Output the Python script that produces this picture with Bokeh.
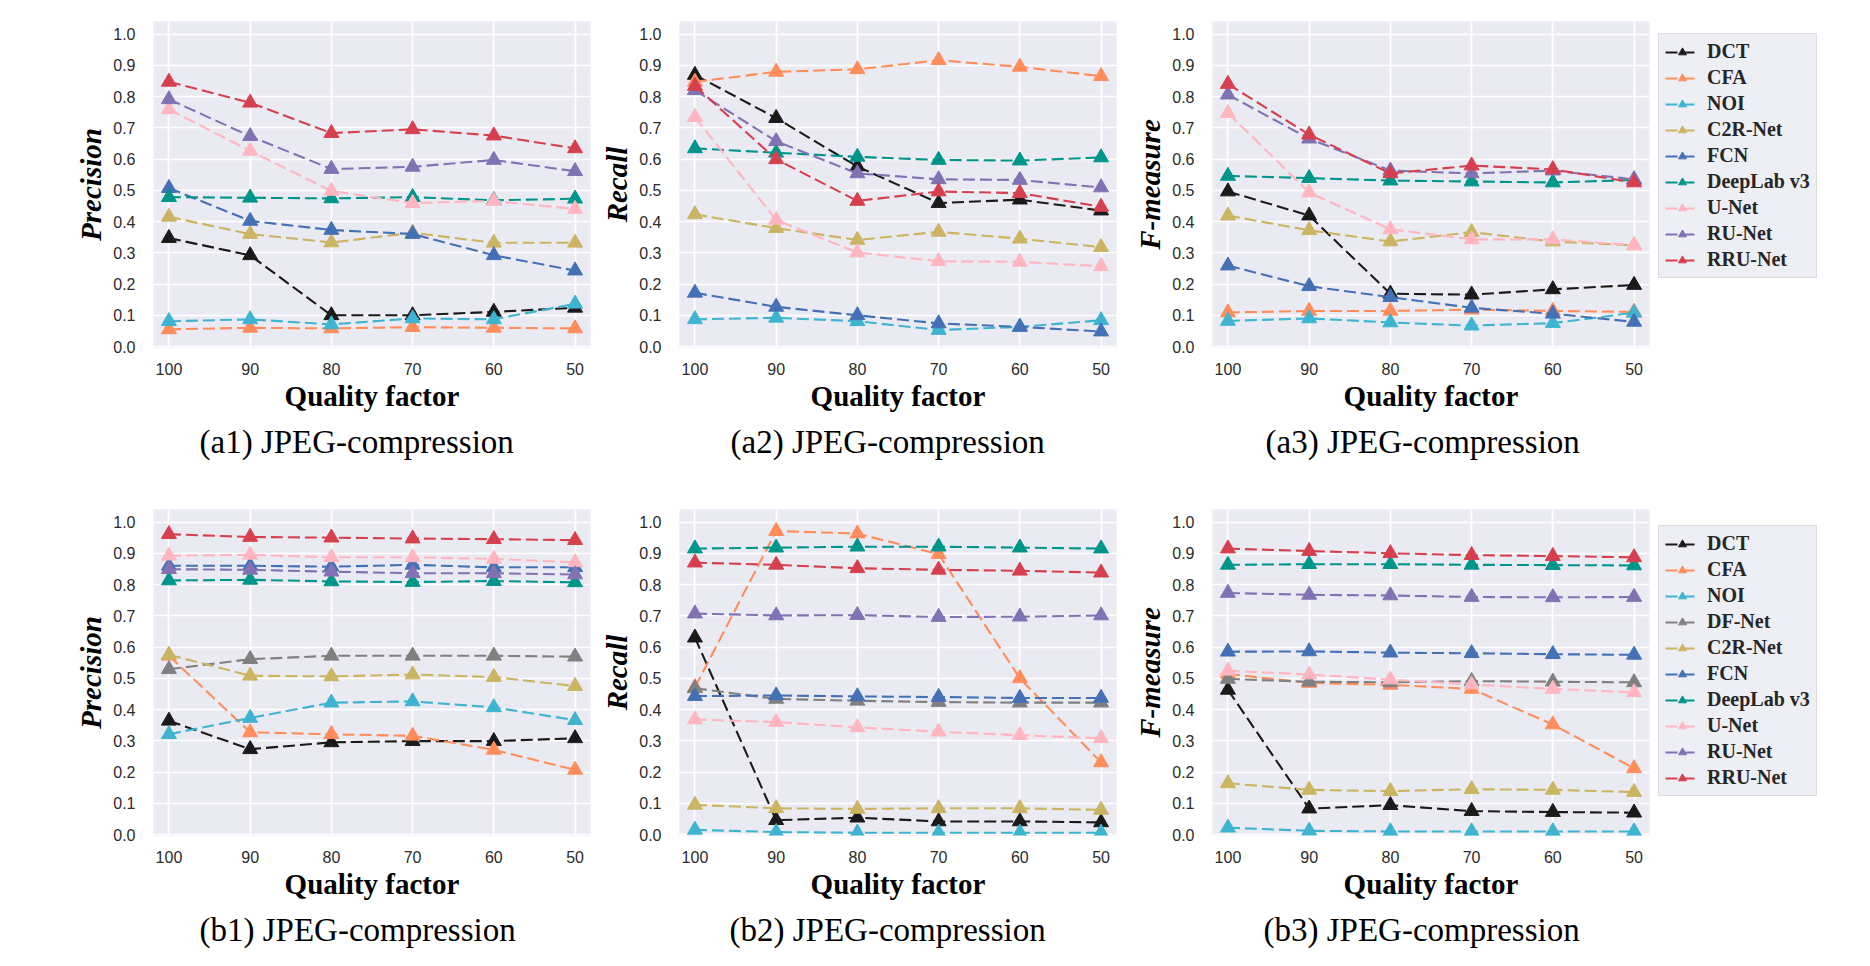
from bokeh.plotting import figure
from bokeh.layouts import row, column
from bokeh.models import Range1d, FixedTicker, PrintfTickFormatter, Legend, LegendItem, Title
from bokeh.embed import file_html
from bokeh.resources import INLINE

quality = [100, 90, 80, 70, 60, 50]
y_ticks = [0.0, 0.1, 0.2, 0.3, 0.4, 0.5, 0.6, 0.7, 0.8, 0.9, 1.0]

methods_a = ["DCT", "CFA", "NOI", "C2R-Net", "FCN", "DeepLab v3", "U-Net", "RU-Net", "RRU-Net"]
methods_b = ["DCT", "CFA", "NOI", "DF-Net", "C2R-Net", "FCN", "DeepLab v3", "U-Net", "RU-Net", "RRU-Net"]

colors = {
    "DCT": "#1a1a1a",
    "CFA": "#ff8d5c",
    "NOI": "#3fb4d0",
    "DF-Net": "#808080",
    "C2R-Net": "#cbb462",
    "FCN": "#4471b5",
    "DeepLab v3": "#00958a",
    "U-Net": "#ffb6c1",
    "RU-Net": "#8172b3",
    "RRU-Net": "#d6404e",
}

a1_precision = {
    "DCT": [0.347, 0.292, 0.100, 0.100, 0.111, 0.124],
    "CFA": [0.055, 0.060, 0.058, 0.062, 0.060, 0.058],
    "NOI": [0.081, 0.087, 0.071, 0.090, 0.087, 0.137],
    "C2R-Net": [0.415, 0.360, 0.333, 0.364, 0.332, 0.332],
    "FCN": [0.507, 0.402, 0.373, 0.360, 0.292, 0.243],
    "DeepLab v3": [0.478, 0.476, 0.474, 0.478, 0.468, 0.473],
    "U-Net": [0.759, 0.626, 0.498, 0.459, 0.466, 0.440],
    "RU-Net": [0.791, 0.673, 0.568, 0.575, 0.597, 0.561],
    "RRU-Net": [0.847, 0.780, 0.683, 0.695, 0.675, 0.634],
}

a2_recall = {
    "DCT": [0.869, 0.731, 0.576, 0.459, 0.470, 0.435],
    "CFA": [0.847, 0.879, 0.887, 0.916, 0.895, 0.865],
    "NOI": [0.087, 0.092, 0.081, 0.053, 0.063, 0.084],
    "C2R-Net": [0.423, 0.379, 0.341, 0.367, 0.345, 0.318],
    "FCN": [0.172, 0.127, 0.100, 0.074, 0.063, 0.048],
    "DeepLab v3": [0.634, 0.620, 0.607, 0.597, 0.595, 0.605],
    "U-Net": [0.734, 0.405, 0.301, 0.273, 0.271, 0.257],
    "RU-Net": [0.820, 0.657, 0.554, 0.535, 0.533, 0.509],
    "RRU-Net": [0.834, 0.599, 0.466, 0.496, 0.491, 0.447],
}

a3_fmeasure = {
    "DCT": [0.496, 0.419, 0.169, 0.166, 0.183, 0.197],
    "CFA": [0.109, 0.114, 0.114, 0.118, 0.114, 0.111],
    "NOI": [0.082, 0.090, 0.077, 0.067, 0.075, 0.108],
    "C2R-Net": [0.419, 0.372, 0.336, 0.366, 0.336, 0.324],
    "FCN": [0.259, 0.193, 0.158, 0.124, 0.105, 0.079],
    "DeepLab v3": [0.546, 0.539, 0.531, 0.528, 0.525, 0.533],
    "U-Net": [0.747, 0.493, 0.375, 0.343, 0.343, 0.324],
    "RU-Net": [0.806, 0.665, 0.563, 0.554, 0.563, 0.535],
    "RRU-Net": [0.840, 0.678, 0.554, 0.579, 0.567, 0.525],
}

b1_precision = {
    "DCT": [0.364, 0.273, 0.295, 0.299, 0.299, 0.308],
    "CFA": [0.572, 0.327, 0.321, 0.316, 0.271, 0.207],
    "NOI": [0.321, 0.373, 0.422, 0.426, 0.407, 0.366],
    "DF-Net": [0.529, 0.561, 0.572, 0.572, 0.572, 0.569],
    "C2R-Net": [0.575, 0.508, 0.506, 0.512, 0.504, 0.475],
    "FCN": [0.860, 0.860, 0.857, 0.863, 0.855, 0.855],
    "DeepLab v3": [0.813, 0.815, 0.810, 0.808, 0.811, 0.807],
    "U-Net": [0.892, 0.895, 0.887, 0.887, 0.882, 0.871],
    "RU-Net": [0.849, 0.847, 0.841, 0.836, 0.836, 0.832],
    "RRU-Net": [0.961, 0.952, 0.950, 0.947, 0.945, 0.942],
}

b2_recall = {
    "DCT": [0.630, 0.046, 0.054, 0.042, 0.042, 0.039],
    "CFA": [0.471, 0.971, 0.963, 0.897, 0.500, 0.231],
    "NOI": [0.015, 0.008, 0.006, 0.006, 0.006, 0.006],
    "DF-Net": [0.468, 0.434, 0.428, 0.424, 0.422, 0.422],
    "C2R-Net": [0.095, 0.084, 0.082, 0.084, 0.084, 0.079],
    "FCN": [0.443, 0.445, 0.442, 0.440, 0.437, 0.437],
    "DeepLab v3": [0.915, 0.918, 0.921, 0.921, 0.918, 0.915],
    "U-Net": [0.368, 0.360, 0.343, 0.329, 0.318, 0.308],
    "RU-Net": [0.707, 0.701, 0.702, 0.696, 0.697, 0.701],
    "RRU-Net": [0.870, 0.863, 0.852, 0.847, 0.844, 0.838],
}

b3_fmeasure = {
    "DCT": [0.463, 0.083, 0.094, 0.075, 0.072, 0.070],
    "CFA": [0.514, 0.485, 0.479, 0.466, 0.352, 0.212],
    "NOI": [0.022, 0.012, 0.010, 0.010, 0.010, 0.010],
    "DF-Net": [0.498, 0.489, 0.487, 0.491, 0.489, 0.487],
    "C2R-Net": [0.164, 0.143, 0.139, 0.145, 0.143, 0.136],
    "FCN": [0.585, 0.586, 0.582, 0.580, 0.577, 0.575],
    "DeepLab v3": [0.863, 0.865, 0.865, 0.863, 0.862, 0.861],
    "U-Net": [0.524, 0.512, 0.496, 0.480, 0.466, 0.455],
    "RU-Net": [0.773, 0.767, 0.765, 0.760, 0.759, 0.760],
    "RRU-Net": [0.915, 0.907, 0.900, 0.894, 0.891, 0.887],
}

FRAME_W = 437
FRAME_H = 326
SERIF = "Liberation Serif"
SANS = "Liberation Sans"


def make_panel(data, methods, ylabel, subtitle, L, R, T, B, sub_left, legend_y=None):
    p = figure(frame_width=FRAME_W, frame_height=FRAME_H,
               output_backend="svg", toolbar_location=None,
               x_range=Range1d(101.9, 48.1), y_range=Range1d(-0.003, 1.04),
               min_border_left=L, min_border_right=R,
               min_border_top=T, min_border_bottom=B)
    p.background_fill_color = "#EAEAF2"
    p.border_fill_color = "white"
    p.outline_line_color = None

    p.xaxis.ticker = FixedTicker(ticks=quality)
    p.yaxis.ticker = FixedTicker(ticks=y_ticks)
    p.yaxis.formatter = PrintfTickFormatter(format="%.1f")
    p.xgrid.ticker = FixedTicker(ticks=quality)
    p.ygrid.ticker = FixedTicker(ticks=y_ticks)
    for g in (p.xgrid, p.ygrid):
        g.grid_line_color = "white"
        g.grid_line_width = 1.7

    for ax in (p.xaxis, p.yaxis):
        ax.axis_line_color = None
        ax.major_tick_line_color = None
        ax.minor_tick_line_color = None
        ax.major_label_text_font = SANS
        ax.major_label_text_font_size = "16px"
        ax.major_label_text_color = "#2b2b2b"
        ax.axis_label_text_font = SERIF
        ax.axis_label_text_font_size = "29px"
        ax.axis_label_text_color = "black"

    p.xaxis.axis_label = "Quality factor"
    p.xaxis.axis_label_text_font_style = "bold"
    p.xaxis.major_label_standoff = 9
    p.xaxis.axis_label_standoff = 2

    p.yaxis.axis_label = ylabel
    p.yaxis.axis_label_text_font_style = "bold italic"
    p.yaxis.major_label_standoff = 12
    p.yaxis.axis_label_standoff = 3

    items = []
    for m in methods:
        c = colors[m]
        ln = p.line(quality, data[m], line_color=c, line_width=2.1, line_dash="12 5")
        sc = p.scatter(quality, data[m], marker="triangle", size=15,
                       fill_color=c, line_color=c)
        items.append(LegendItem(label=m, renderers=[ln, sc]))

    if legend_y is not None:
        lg = Legend(items=items, location=(9, legend_y), margin=0, padding=6, spacing=3,
                    glyph_width=34, glyph_height=20, label_height=20, label_standoff=8,
                    label_text_font=SERIF, label_text_font_style="bold",
                    label_text_font_size="20px", label_text_color="#262626",
                    background_fill_color="#EAEAF2", background_fill_alpha=0.8,
                    border_line_color="#cccccc", border_line_width=1)
        p.add_layout(lg, "right")

    p.add_layout(Title(text=subtitle, align="left", text_font=SERIF,
                       text_font_size="33px", text_font_style="normal",
                       text_color="black", standoff=14, offset=sub_left), "below")
    return p


a1 = make_panel(a1_precision, methods_a, "Precision", "(a1) JPEG-compression", 153, 2, 21, 130, 46)
a2 = make_panel(a2_recall, methods_a, "Recall", "(a2) JPEG-compression", 87, 2, 21, 130, 51)
a3 = make_panel(a3_fmeasure, methods_a, "F-measure", "(a3) JPEG-compression", 94, 20, 21, 130, 53,
                legend_y=69)
b1 = make_panel(b1_precision, methods_b, "Precision", "(b1) JPEG-compression", 153, 2, 32, 120, 46)
b2 = make_panel(b2_recall, methods_b, "Recall", "(b2) JPEG-compression", 87, 2, 32, 120, 50)
b3 = make_panel(b3_fmeasure, methods_b, "F-measure", "(b3) JPEG-compression", 94, 20, 32, 120, 51,
                legend_y=39)

layout = column(row(a1, a2, a3), row(b1, b2, b3))

open("out.html", "w").write(file_html(layout, INLINE))
